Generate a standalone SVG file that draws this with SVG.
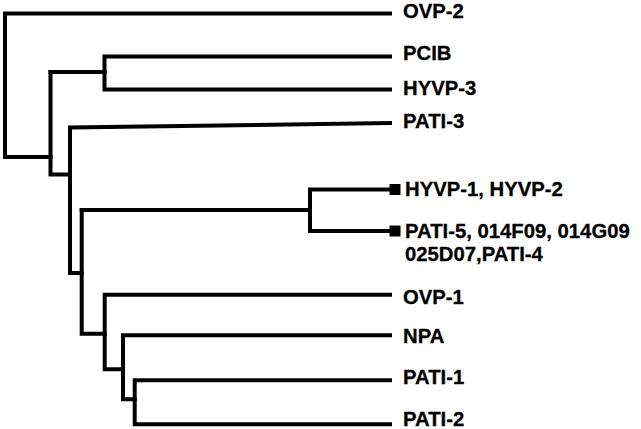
<svg xmlns="http://www.w3.org/2000/svg" width="641" height="429" viewBox="0 0 641 429">
<style>
.e{fill:none;stroke:#000;stroke-width:4;stroke-linecap:square;stroke-linejoin:miter}
.t{font-family:"Liberation Sans",Arial,Helvetica,sans-serif;font-weight:bold;font-size:20.3px;fill:#000;stroke:#000;stroke-width:0.3}
.m{fill:#000}
</style>
<rect width="641" height="429" fill="#fff"/>
<g id="connectors">
<path class="e" d="M390,13.5 H5 V157 H50.5"/>
<path class="e" d="M50.5,72 V174.5 H70"/>
<path class="e" d="M50.5,72 H104.5"/>
<path class="e" d="M390,56.5 H104.5 V89.5 H390"/>
<path class="e" d="M390,123 L70,127.5 V273 H81.7"/>
<path class="e" d="M81.7,210 V333.7 H104.7"/>
<path class="e" d="M81.7,210 H310"/>
<path class="e" d="M390,189.5 H310 V231 H390"/>
<path class="e" d="M390,294.7 H104.7 V369.3 H123"/>
<path class="e" d="M390,335.3 H123 V399.3 H134.7"/>
<path class="e" d="M390,380.3 H134.7 V424.3 H390"/>
</g>
<g id="OVP-2"><text class="t" x="403" y="17.5">OVP-2</text></g>
<g id="PCIB"><text class="t" x="403" y="60">PCIB</text></g>
<g id="HYVP-3"><text class="t" x="403" y="94.5">HYVP-3</text></g>
<g id="PATI-3"><text class="t" x="403" y="127.5">PATI-3</text></g>
<g id="HYVP-1"><rect class="m" x="389.5" y="184" width="11" height="11"/><text class="t" x="405" y="195.5">HYVP-1, HYVP-2</text></g>
<g id="PATI-5"><rect class="m" x="389.5" y="225.5" width="11" height="11"/><text class="t" x="405" y="238">PATI-5, 014F09, 014G09</text><text class="t" x="405" y="260.5">025D07,PATI-4</text></g>
<g id="OVP-1"><text class="t" x="403" y="304">OVP-1</text></g>
<g id="NPA"><text class="t" x="403" y="342.5">NPA</text></g>
<g id="PATI-1"><text class="t" x="403" y="383.5">PATI-1</text></g>
<g id="PATI-2"><text class="t" x="403" y="426">PATI-2</text></g>
</svg>
